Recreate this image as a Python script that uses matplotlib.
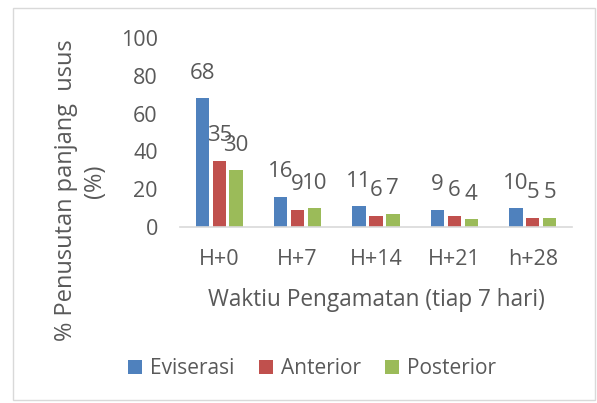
import matplotlib
matplotlib.use("Agg")
import matplotlib.pyplot as plt
import numpy as np
from matplotlib.patches import Rectangle

categories = ["H+0", "H+7", "H+14", "H+21", "h+28"]
eviserasi = [68, 16, 11, 9, 10]
anterior = [35, 9, 6, 6, 5]
posterior = [30, 10, 7, 4, 5]
series_names = ["Eviserasi", "Anterior", "Posterior"]
colors = ["#4F81BD", "#C0504D", "#9BBB59"]
yticks = [0, 20, 40, 60, 80, 100]

plt.rcParams['font.family'] = ['Open Sans', 'DejaVu Sans']
txt = "#595959"

fig = plt.figure(figsize=(5.97, 4.03), dpi=100)
fig.patches.append(Rectangle((13/597, 3/403), 582/597, 392/403, transform=fig.transFigure,
                             fill=False, edgecolor="#D9D9D9", linewidth=1.0))
ax = fig.add_axes([180/597, 1-227/403, 392/597, 189/403])

x = np.arange(len(categories))
w = 0.17
step = 0.215
for i, (vals, name, c) in enumerate(zip([eviserasi, anterior, posterior], series_names, colors)):
    pos = x + (i - 1) * step
    ax.bar(pos, vals, width=w, color=c, label=name)
    for p, v in zip(pos, vals):
        ax.annotate(str(v), (p, v), xytext=(0, 18), textcoords="offset points",
                    ha="center", va="center", fontsize=16, color=txt)

ax.set_xlim(-0.5, len(categories) - 0.5)
ax.set_ylim(0, 100)
ax.set_yticks(yticks)
ax.set_xticks(x)
ax.set_xticklabels(categories)
for s in ["top", "right", "left"]:
    ax.spines[s].set_visible(False)
ax.spines["bottom"].set_color("#D9D9D9")
ax.spines["bottom"].set_linewidth(1.2)
ax.tick_params(axis="both", length=0, labelsize=15.5, colors=txt)
ax.tick_params(axis="y", pad=16)
ax.tick_params(axis="x", pad=16)

fig.text(66/597, 1-190/403, "% Penusutan panjang  usus", rotation=90,
         ha="center", va="center", fontsize=17, color=txt)
fig.text(95/597, 1-181/403, "(%)", rotation=90,
         ha="center", va="center", fontsize=17, color=txt)
fig.text(376/597, 1-306/403, "Waktiu Pengamatan (tiap 7 hari)", ha="center", va="baseline",
         fontsize=16.3, color=txt)

leg = fig.legend(loc="center", bbox_to_anchor=(312/597, 1-369/403), ncol=3, frameon=False,
                 fontsize=15, handlelength=0.67, handleheight=0.67, handletextpad=0.4,
                 columnspacing=1.15)
for t in leg.get_texts():
    t.set_color(txt)

fig.savefig("out.png", dpi=100)
